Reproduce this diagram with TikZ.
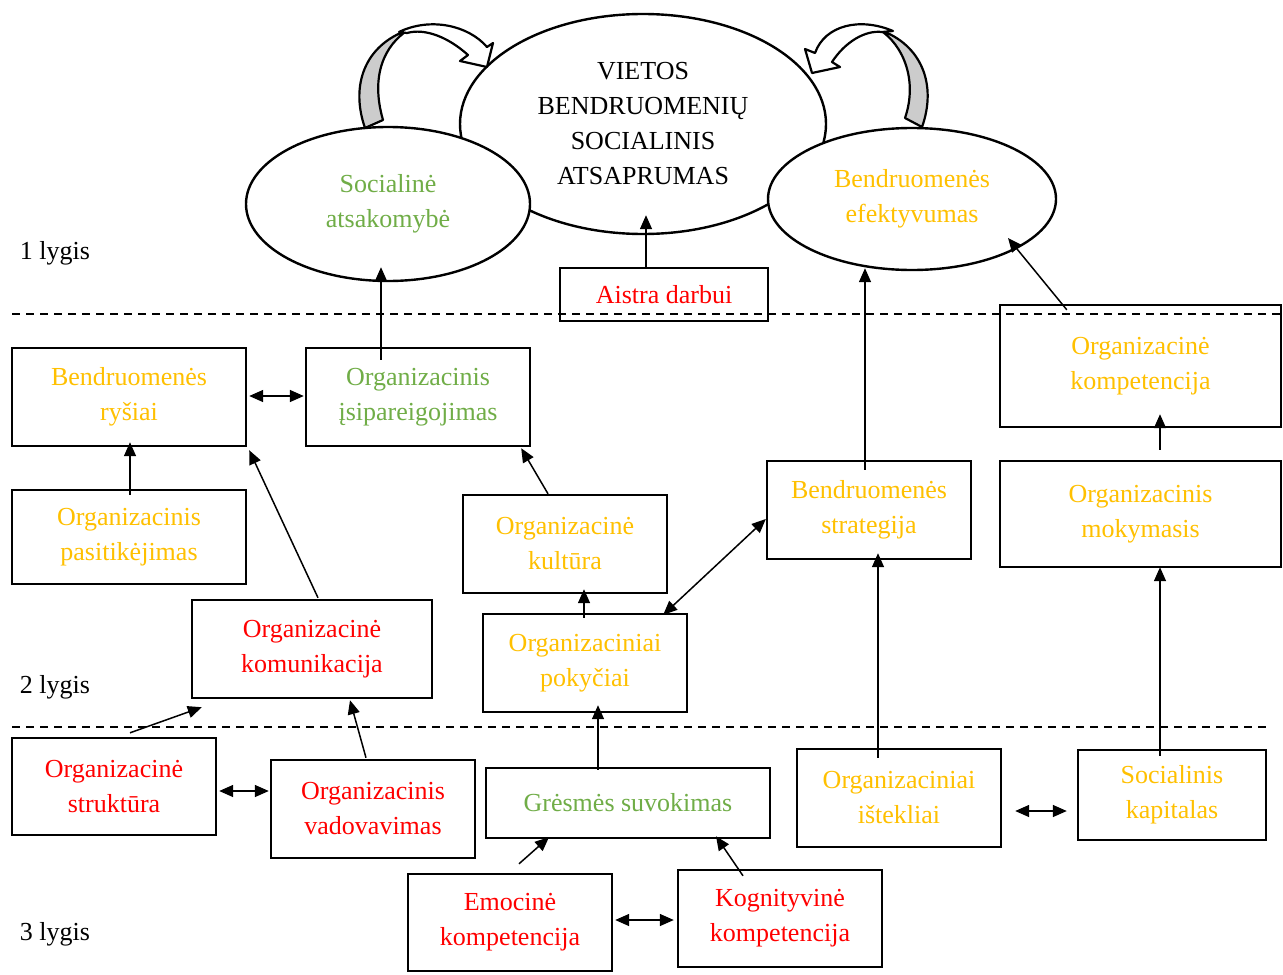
\documentclass[tikz,border=0pt]{standalone}
\usepackage{fontspec}
\setmainfont{Liberation Serif}
\usetikzlibrary{calc,arrows.meta,shapes.geometric}
\definecolor{cyel}{RGB}{255,192,0}
\definecolor{cgrn}{RGB}{112,173,71}
\definecolor{cred}{RGB}{255,0,0}
\begin{document}
\begin{tikzpicture}[x=0.5pt,y=-0.5pt,
  every node/.style={font=\fontsize{13}{17.5}\selectfont, align=center, inner sep=0pt},
  box/.style={draw, line width=1.2pt, rectangle, fill=white},
  ell/.style={draw, line width=1.2pt, ellipse, fill=white},
  arr/.style={line width=0.75pt, -{Triangle[length=7pt,width=6pt]}},
  darr/.style={line width=0.75pt, {Triangle[length=7pt,width=6pt]}-{Triangle[length=7pt,width=6pt]}},
  sepline/.style={dash pattern=on 4pt off 3pt, line width=0.7pt},
  curv/.style={draw, line width=1.1pt, line join=round},
  lvl/.style={anchor=center}
]
\useasboundingbox (0,0) rectangle (1283,974);

% level labels
\node[lvl] (l1) at (55,253) {1 lygis};
\node[lvl] (l2) at (55,687) {2 lygis};
\node[lvl] (l3) at (55,934) {3 lygis};

% ellipses
\node[ell, minimum width=183pt, minimum height=110pt] (big) at (643,124) {VIETOS\\BENDRUOMENIŲ\\SOCIALINIS\\ATSAPRUMAS};
\node[ell, minimum width=142pt, minimum height=77pt, text=cgrn] (soc) at (388,204) {Socialinė\\atsakomybė};
\node[ell, minimum width=144pt, minimum height=71pt, text=cyel] (eff) at (912,199) {Bendruomenės\\efektyvumas};

% curved arrows (left)
\path[curv, fill=gray!40] (365,128) .. controls (350,85) and (365,45) .. (408,30) .. controls (385,45) and (370,75) .. (383,120) -- cycle;
\path[curv, fill=white] (399,32) .. controls (430,17) and (468,25) .. (487,47) -- (493,43) -- (487,67) -- (460,61) -- (468,55) .. controls (448,37) and (425,28) .. (407,33) -- cycle;
% curved arrows (right)
\path[curv, fill=gray!40] (922,127) .. controls (937,85) and (922,45) .. (880,30) .. controls (903,45) and (918,80) .. (905,118) -- cycle;
\path[curv, fill=white] (893,31) .. controls (860,17) and (825,25) .. (815,53) -- (805,49) -- (812,73) -- (840,67) -- (832,62) .. controls (845,42) and (865,30) .. (882,32) -- cycle;

% level 1 box
\node[box, minimum width=104pt, minimum height=26.5pt, text=cred] (aistra) at (664,294.5) {Aistra darbui};

% level 2 boxes
\node[box, minimum width=117pt, minimum height=49pt, text=cyel] (rysiai) at (129,397) {Bendruomenės\\ryšiai};
\node[box, minimum width=112pt, minimum height=49pt, text=cgrn] (isip) at (418,397) {Organizacinis\\įsipareigojimas};
\node[box, minimum width=117pt, minimum height=47pt, text=cyel] (pasit) at (129,537) {Organizacinis\\pasitikėjimas};
\node[box, minimum width=120pt, minimum height=49pt, text=cred] (komun) at (312,649) {Organizacinė\\komunikacija};
\node[box, minimum width=102pt, minimum height=49pt, text=cyel] (kult) at (565,544) {Organizacinė\\kultūra};
\node[box, minimum width=102pt, minimum height=49pt, text=cyel] (pokyc) at (585,663) {Organizaciniai\\pokyčiai};
\node[box, minimum width=102pt, minimum height=49pt, text=cyel] (strat) at (869,510) {Bendruomenės\\strategija};
\node[box, minimum width=140.5pt, minimum height=61pt, text=cyel] (komp) at (1140.5,366) {Organizacinė\\kompetencija};
\node[box, minimum width=140.5pt, minimum height=53pt, text=cyel] (mokym) at (1140.5,514) {Organizacinis\\mokymasis};

% level 3 boxes
\node[box, minimum width=102pt, minimum height=48.5pt, text=cred] (strukt) at (114,786.5) {Organizacinė\\struktūra};
\node[box, minimum width=102pt, minimum height=49pt, text=cred] (vadov) at (373,809) {Organizacinis\\vadovavimas};
\node[box, minimum width=142pt, minimum height=35pt, text=cgrn] (gresm) at (628,803) {Grėsmės suvokimas};
\node[box, minimum width=102pt, minimum height=49pt, text=cyel] (istekl) at (899,798) {Organizaciniai\\ištekliai};
\node[box, minimum width=94pt, minimum height=45pt, text=cyel] (kapit) at (1172,795) {Socialinis\\kapitalas};
\node[box, minimum width=102pt, minimum height=48.5pt, text=cred] (emoc) at (510,922.5) {Emocinė\\kompetencija};
\node[box, minimum width=102pt, minimum height=48.5pt, text=cred] (kogn) at (780,918.5) {Kognityvinė\\kompetencija};

% separators (drawn over boxes, as in the reference)
\draw[sepline] (12,314) -- (1283,314);
\draw[sepline] (12,727) -- (1270,727);

% connectors
\draw[arr] ($(aistra.north)+(-18,0)$) -- ($(big.south)+(3,-20)$);
\draw[arr] ($(isip.north)+(-37,13)$) -- ($(soc.south)+(-7,-15)$);
\draw[darr] ($(rysiai.east)+(2,-1)$) -- ($(isip.west)+(-1,-1)$);
\draw[arr] ($(pasit.north)+(1,6)$) -- ($(rysiai.south)+(1,-5)$);
\draw[arr] ($(komun.north)+(6,-1)$) -- ($(rysiai.south east)+(2,3)$);
\draw[arr] ($(kult.north)+(-17,0)$) -- ($(isip.south east)+(-10,1)$);
\draw[arr] ($(pokyc.north)+(-1,5)$) -- ($(kult.south)+(19,-5)$);
\draw[darr] ($(pokyc.north east)+(-25,2)$) -- ($(strat.west)+(0,9)$);
\draw[arr] ($(strat.north)+(-4,10)$) -- ($(eff.south)+(-47,-3)$);
\draw[arr] ($(komp.north west)+(68,6)$) -- ($(eff.center)+(96,39)$);
\draw[arr] ($(mokym.north)+(19.5,-10)$) -- ($(komp.south)+(19.5,-14)$);
\draw[arr] ($(istekl.north)+(-21,10)$) -- ($(strat.south)+(9,-7)$);
\draw[arr] ($(kapit.north)+(-12,7)$) -- ($(mokym.south)+(19.5,-1)$);
\draw[darr] ($(istekl.east)+(13,13)$) -- ($(kapit.west)+(-10,16)$);
\draw[arr] ($(strukt.north)+(16,-4)$) -- ($(komun.south west)+(11,8)$);
\draw[arr] ($(vadov.north)+(-7,-1)$) -- ($(komun.south)+(38,1)$);
\draw[darr] ($(strukt.east)+(2,4.5)$) -- ($(vadov.west)+(-1,-18)$);
\draw[arr] ($(gresm.north)+(-30,3)$) -- ($(pokyc.south)+(13,-8)$);
\draw[arr] ($(emoc.north)+(9,-9)$) -- ($(gresm.south)+(-79,-2)$);
\draw[arr] ($(kogn.north)+(-37,7)$) -- ($(gresm.south)+(88,-3)$);
\draw[darr] ($(emoc.east)+(2,-2.5)$) -- ($(kogn.west)+(-3,1.5)$);
\end{tikzpicture}
\end{document}
